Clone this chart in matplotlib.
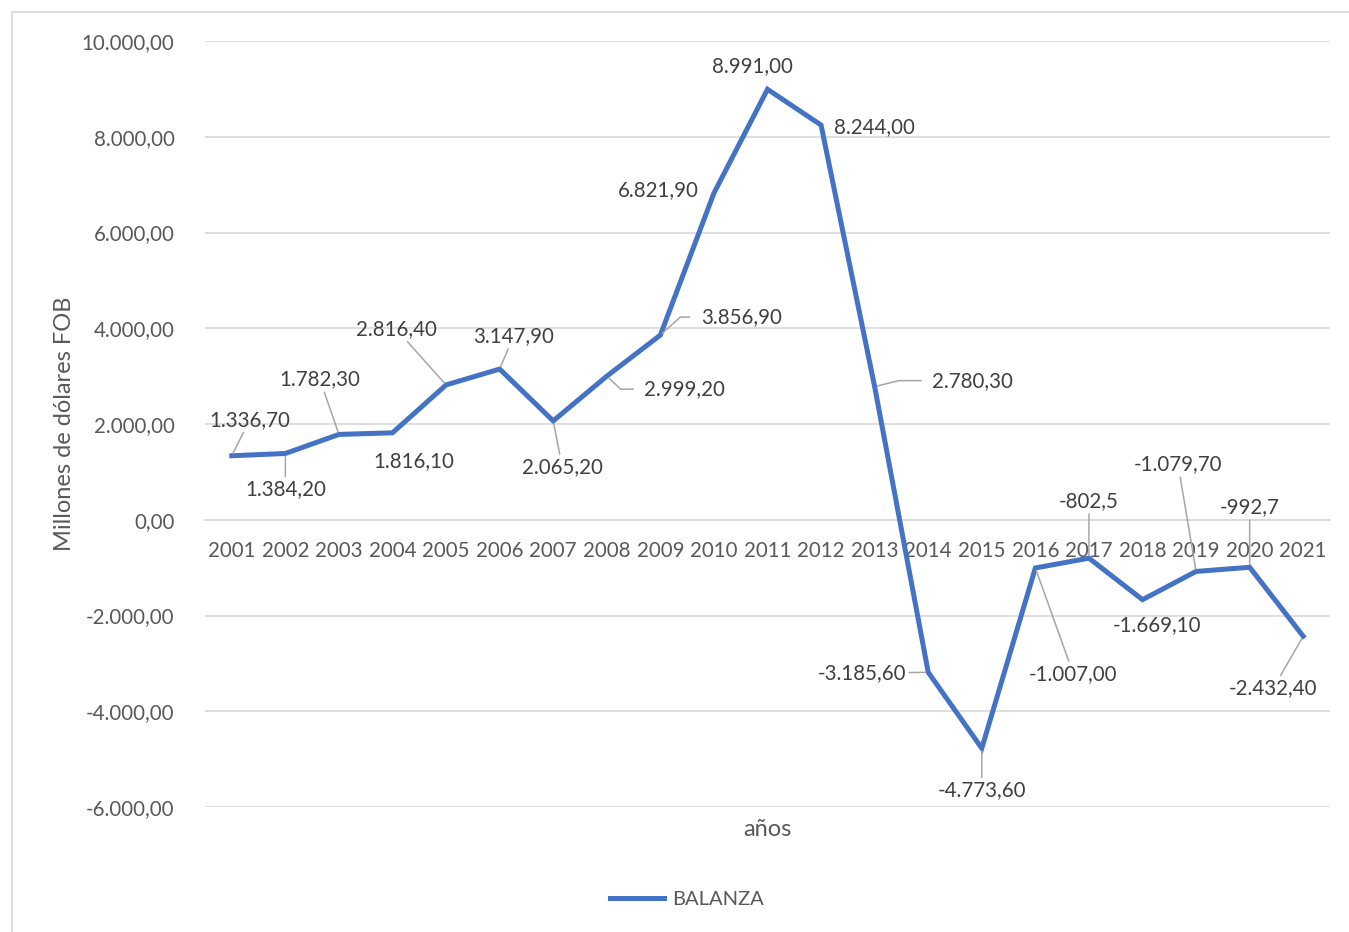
import numpy as np
import matplotlib.pyplot as plt
from matplotlib.patches import Rectangle

plt.rcParams['font.family'] = ['Lato', 'DejaVu Sans']

# data
years = ['2001', '2002', '2003', '2004', '2005', '2006', '2007', '2008', '2009', '2010',
         '2011', '2012', '2013', '2014', '2015', '2016', '2017', '2018', '2019', '2020', '2021']
balanza = [1336.7, 1384.2, 1782.3, 1816.1, 2816.4, 3147.9, 2065.2, 2999.2, 3856.9, 6821.9,
           8991.0, 8244.0, 2780.3, -3185.6, -4773.6, -1007.0, -802.5, -1669.1, -1079.7, -992.7, -2432.4]
labels = ['1.336,70', '1.384,20', '1.782,30', '1.816,10', '2.816,40', '3.147,90', '2.065,20',
          '2.999,20', '3.856,90', '6.821,90', '8.991,00', '8.244,00', '2.780,30', '-3.185,60',
          '-4.773,60', '-1.007,00', '-802,5', '-1.669,10', '-1.079,70', '-992,7', '-2.432,40']
yticks = [-6000, -4000, -2000, 0, 2000, 4000, 6000, 8000, 10000]

# label offsets in pixels (dx, dy) and leader style: None / 'line' / elbow angle
offsets = [(18, 36), (0, -36), (-19, 55), (21, -28), (-50, 56), (14, 33), (9, -46),
           (78, -13), (81, 18), (-56, 3), (-15, 23), (53, -2), (98, 6), (-66, -1),
           (0, -42), (38, -106), (0, 57), (15, -25), (-18, 107), (0, 60), (-30, -52)]
leader = ['line', 'line', 'line', None, 'line', 'line', 'line', -43, 42, None, None, None,
          14, 'line', 'line', 'line', 'line', None, 'line', 'line', 'line']

def fmt(v):
    s = f'{abs(v):,.2f}'.replace(',', 'X').replace('.', ',').replace('X', '.')
    return ('-' if v < 0 else '') + s

blue = '#4472C4'
tick_col = '#595959'
lab_col = '#404040'

fig = plt.figure(figsize=(13.49, 9.32), dpi=100)
fig.add_artist(Rectangle((12 / 1349, -0.1), 1.2, 1 - 12 / 932 + 0.1, transform=fig.transFigure,
                         fill=False, edgecolor='#D9D9D9', linewidth=1.2))
ax = fig.add_axes([205 / 1349, 1 - 807 / 932, 1125 / 1349, 766 / 932])

x = np.arange(len(years))
line, = ax.plot(x, balanza, color=blue, linewidth=3.6, solid_joinstyle='miter', label='BALANZA', zorder=3)

ax.set_xlim(-0.5, len(years) - 0.5)
ax.set_ylim(-6000, 10000)
ax.set_yticks(yticks)
ax.set_yticklabels([fmt(v) for v in yticks])
ax.yaxis.grid(True, color='#D9D9D9', linewidth=1.2)
ax.set_axisbelow(True)
for s in ['top', 'right', 'left']:
    ax.spines[s].set_visible(False)
ax.spines['bottom'].set_position(('data', 0))
ax.spines['bottom'].set_color('#D9D9D9')
ax.spines['bottom'].set_linewidth(1.2)
ax.set_xticks(x)
ax.set_xticklabels(years)
ax.tick_params(axis='x', length=0, pad=15, labelsize=14.8, colors=tick_col)
ax.tick_params(axis='y', length=0, pad=22, labelsize=14.8, colors=tick_col)

ax.set_xlabel('años', fontsize=17, color=tick_col)
ax.xaxis.set_label_coords(0.5, -0.016)
ax.set_ylabel('Millones de dólares FOB', fontsize=17, color=tick_col)
ax.yaxis.set_label_coords(-0.116, 0.5)

for i, (v, t) in enumerate(zip(balanza, labels)):
    dx, dy = offsets[i]
    style = leader[i]
    if style is None:
        props = None
    elif style == 'line':
        props = dict(arrowstyle='-', color='#A6A6A6', linewidth=1.1, shrinkA=0, shrinkB=2)
    else:
        props = dict(arrowstyle='-', color='#A6A6A6', linewidth=1.1, shrinkA=6, shrinkB=2,
                     relpos=(0, 0.5), connectionstyle=f'angle,angleA=0,angleB={style},rad=0')
    ax.annotate(t, xy=(i, v), xytext=(dx, dy), textcoords='offset pixels',
                ha='center', va='center', fontsize=14.8, color=lab_col,
                arrowprops=props, zorder=4)

leg = fig.legend(handles=[line], loc='center', bbox_to_anchor=(687 / 1349, 1 - 899 / 932),
                 frameon=False, fontsize=14.5, handlelength=2.7, handletextpad=0.4)
for t in leg.get_texts():
    t.set_color(tick_col)

fig.savefig('out.png', dpi=100)
